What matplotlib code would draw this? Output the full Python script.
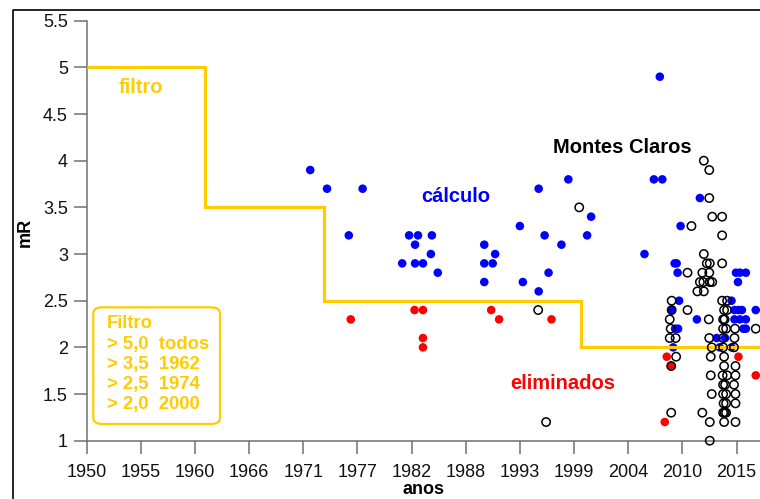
import matplotlib
matplotlib.use("Agg")
import matplotlib.pyplot as plt
from matplotlib.patches import FancyBboxPatch
from matplotlib.lines import Line2D

plt.rcParams['font.family'] = ['Liberation Sans', 'DejaVu Sans']

# ---------------- data ----------------
blue_year = [1972.6, 1974.3, 1976.5, 1977.9, 1981.9, 1982.6, 1983.2, 1983.2, 1983.5, 1984.0,
             1984.8, 1984.9, 1985.5, 1990.2, 1990.2, 1990.2, 1991.05, 1991.3, 1993.8, 1994.1,
             1995.7, 1995.7, 1996.3, 1996.7, 1998.0, 1998.7, 2000.6, 2001.0, 2006.4, 2007.35,
             2007.95, 2008.2, 2010.05, 2012.0,
             2009.45, 2009.65, 2009.75, 2015.65, 2016.05, 2016.65, 2015.85, 2009.9, 2015.2,
             2009.15, 2015.9, 2016.25, 2017.65, 2015.5, 2011.7, 2015.5, 2016.05, 2016.65,
             2009.5, 2009.8, 2016.4, 2016.65, 2013.7, 2014.55, 2009.3, 2014.0, 2015.2]
blue_mr = [3.9, 3.7, 3.2, 3.7, 2.9, 3.2, 2.9, 3.1, 3.2, 2.9,
           3.0, 3.2, 2.8, 3.1, 2.9, 2.7, 2.9, 3.0, 3.3, 2.7,
           3.7, 2.6, 3.2, 2.8, 3.1, 3.8, 3.2, 3.4, 3.0, 3.8,
           4.9, 3.8, 3.3, 3.6,
           2.9, 2.9, 2.8, 2.8, 2.8, 2.8, 2.7, 2.5, 2.5,
           2.4, 2.4, 2.4, 2.4, 2.4, 2.3, 2.3, 2.3, 2.3,
           2.2, 2.2, 2.2, 2.2, 2.1, 2.1, 2.0, 2.0, 2.0]

red_year = [1976.7, 1983.15, 1984.0, 1984.0, 1984.0, 1990.9, 1991.7, 1997.0,
            2008.45, 2008.65, 2009.1, 2015.9, 2017.65]
red_mr = [2.3, 2.4, 2.4, 2.1, 2.0, 2.4, 2.3, 2.3,
          1.2, 1.9, 1.8, 1.9, 1.7]

open_year = [1995.65, 1996.45, 1999.8,
             2012.4, 2012.95, 2012.95, 2013.25, 2014.25, 2011.15, 2014.25, 2012.4,
             2012.7, 2013.0, 2014.25, 2010.75, 2012.25, 2012.95, 2012.0, 2012.35, 2013.0,
             2013.25, 2011.75, 2012.4, 2009.15, 2014.25, 2014.75, 2009.15, 2010.75, 2014.45,
             2014.75, 2008.95, 2012.9, 2014.35, 2014.5, 2009.05, 2014.35, 2014.65, 2015.55,
             2017.65, 2008.95, 2009.55, 2012.95, 2015.5, 2014.35, 2013.2, 2014.35, 2015.45,
             2009.6, 2013.1, 2014.45, 2009.1, 2014.45, 2015.6, 2013.1, 2014.3, 2014.75,
             2015.6, 2014.35, 2014.55, 2015.45, 2013.2, 2014.35, 2014.65, 2015.6, 2014.4,
             2014.65, 2015.6, 2009.1, 2012.25, 2014.35, 2014.65, 2014.5, 2013.0, 2014.45,
             2015.6, 2013.0]
open_mr = [2.4, 1.2, 3.5,
           4.0, 3.9, 3.6, 3.4, 3.4, 3.3, 3.2, 3.0,
           2.9, 2.9, 2.9, 2.8, 2.8, 2.8, 2.7, 2.7, 2.7,
           2.7, 2.6, 2.6, 2.5, 2.5, 2.5, 2.4, 2.4, 2.4,
           2.4, 2.3, 2.3, 2.3, 2.3, 2.2, 2.2, 2.2, 2.2,
           2.2, 2.1, 2.1, 2.1, 2.1, 2.1, 2.0, 2.0, 2.0,
           1.9, 1.9, 1.9, 1.8, 1.8, 1.8, 1.7, 1.7, 1.7,
           1.7, 1.6, 1.6, 1.6, 1.5, 1.5, 1.5, 1.5, 1.4,
           1.4, 1.4, 1.3, 1.3, 1.3, 1.3, 1.3, 1.2, 1.2,
           1.2, 1.0]

filter_edges = [1950, 1962, 1974, 2000, 2018.1]
filter_values = [5.0, 3.5, 2.5, 2.0]

xtick_labels = ['1950', '1955', '1960', '1966', '1971', '1977', '1982',
                '1988', '1993', '1999', '2004', '2010', '2015']
ytick_values = [1, 1.5, 2, 2.5, 3, 3.5, 4, 4.5, 5, 5.5]
ytick_labels = ['1', '1.5', '2', '2.5', '3', '3.5', '4', '4.5', '5', '5.5']

legend_lines = ['Filtro', '> 5,0  todos', '> 3,5  1962', '> 2,5  1974', '> 2,0  2000']

# ---------------- figure ----------------
W, H = 760, 499
fig = plt.figure(figsize=(W / 100, H / 100), dpi=100)
ax = fig.add_axes([86.7 / W, 1 - 440.7 / H, 1 - 86.7 / W, (440.7 - 20.7) / H])

gold = '#FFCC00'
ax.scatter(blue_year, blue_mr, s=38, color='#0000FF', edgecolors='none', zorder=3, clip_on=False)
ax.scatter(red_year, red_mr, s=38, color='#FF0000', edgecolors='none', zorder=4, clip_on=False)
ax.stairs(filter_values, filter_edges, color=gold, linewidth=2.3, zorder=5, baseline=None)
ax.scatter(open_year, open_mr, s=36, facecolors='none', edgecolors='black', linewidths=1.1,
           zorder=6, clip_on=False)

ax.set_xlim(1950, 2018.08)
ax.set_ylim(1, 5.5)

step = 2000 / 365.25
ax.set_xticks([1950 + k * step for k in range(len(xtick_labels))])
ax.set_xticklabels(xtick_labels)
ax.set_yticks(ytick_values)
ax.set_yticklabels(ytick_labels)

spine_col = '#707070'
for s in ['top', 'right']:
    ax.spines[s].set_visible(False)
for s in ['left', 'bottom']:
    ax.spines[s].set_color(spine_col)
    ax.spines[s].set_linewidth(1.1)
ax.tick_params(axis='both', direction='out', length=9.5, width=1.1, color=spine_col,
               labelsize=13, labelcolor='#111111')
ax.tick_params(axis='x', pad=7)
ax.tick_params(axis='y', pad=4)

ax.set_ylabel('mR', fontsize=13, fontweight='bold')
ax.yaxis.set_label_coords((34 - 86.7) / 673.3, (440.7 - 232) / 420)
ax.set_xlabel('anos', fontsize=13, fontweight='bold')
ax.xaxis.label.set_va('baseline')
ax.xaxis.set_label_coords(0.5, (440.7 - 494.5) / 420)

# annotations
ax.text(1953.2, 4.73, 'filtro', color=gold, fontsize=14.5, fontweight='bold', va='baseline')
ax.text(1997.18, 4.087, 'Montes Claros', color='black', fontsize=14.5, fontweight='bold', va='baseline')
ax.text(1983.8, 3.562, 'cálculo', color='#0000FF', fontsize=14.5, fontweight='bold', va='baseline')
ax.text(1992.8, 1.551, 'eliminados', color='#FF0000', fontsize=14.5, fontweight='bold', va='baseline')

# legend box (figure pixel coords)
box = FancyBboxPatch((93.3 / W, 1 - 424 / H), (220 - 93.3) / W, (424 - 307.3) / H,
                     boxstyle='round,pad=0,rounding_size=0.012', transform=fig.transFigure,
                     facecolor='white', edgecolor=gold, linewidth=1.6, zorder=10)
fig.patches.append(box)
for i, line in enumerate(legend_lines):
    fig.text(106.7 / W, 1 - (324 + i * 20.2) / H, line, color=gold, fontsize=13.3,
             fontweight='bold', va='center', ha='left', zorder=11)

# outer chart frame (left and top edges)
frame = Line2D([12.5 / W, 12.5 / W, 1.0], [0.0, 1 - 9.5 / H, 1 - 9.5 / H],
               transform=fig.transFigure, color='black', linewidth=1.2)
fig.lines.append(frame)

fig.savefig('out.png', dpi=100)
